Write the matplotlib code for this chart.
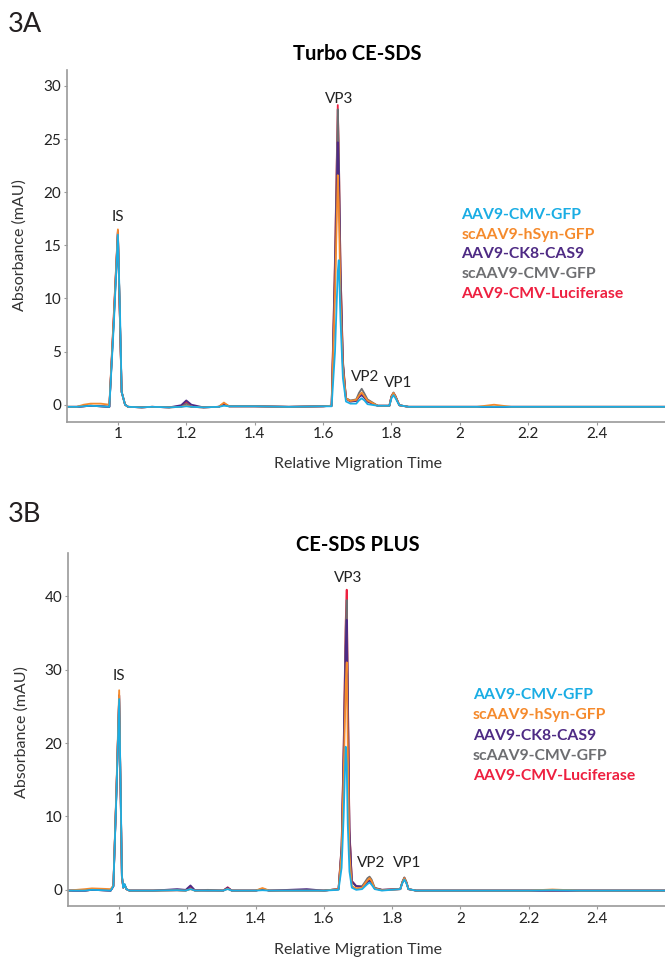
import matplotlib
matplotlib.use('Agg')
import matplotlib.pyplot as plt

plt.rcParams['font.family'] = ['Lato', 'DejaVu Sans']

# colours of the five samples
c_cyan = '#1aade4'
c_orange = '#f58a2c'
c_purple = '#4e2a84'
c_grey = '#6d6e71'
c_red = '#ee2040'

names = ['AAV9-CMV-GFP', 'scAAV9-hSyn-GFP', 'AAV9-CK8-CAS9', 'scAAV9-CMV-GFP', 'AAV9-CMV-Luciferase']

# 3A - Turbo CE-SDS traces
a_x = [0.85, 0.88, 0.90, 0.92, 0.95, 0.975, 0.988, 1.0, 1.006, 1.011,
       1.016, 1.021, 1.03, 1.07, 1.1, 1.15, 1.185, 1.2, 1.215, 1.25,
       1.295, 1.31, 1.325, 1.4, 1.5, 1.6, 1.625, 1.635, 1.643, 1.646,
       1.651, 1.658, 1.667, 1.68, 1.697, 1.705, 1.713, 1.721, 1.73, 1.76,
       1.794, 1.800, 1.806, 1.812, 1.823, 1.85, 2.05, 2.1, 2.15, 2.6]
a_cyan = [-0.2, -0.2, -0.15, -0.1, -0.15, -0.2, 7.5, 16.0, 9.0, 1.2,
          0.6, 0.0, -0.2, -0.25, -0.2, -0.25, -0.2, -0.15, -0.2, -0.25,
          -0.2, -0.1, -0.15, -0.15, -0.2, -0.15, -0.15, 5.0, 12.5, 13.6,
          8.0, 2.5, 0.3, 0.1, 0.1, 0.4, 0.6, 0.4, 0.05, -0.1,
          -0.1, 0.6, 0.9, 0.6, -0.05, -0.2, -0.2, -0.2, -0.2, -0.2]
a_orange = [-0.2, -0.2, 0.0, 0.1, 0.1, 0.0, 8.3, 16.5, 8.0, 1.2,
            0.6, 0.0, -0.2, -0.25, -0.2, -0.25, -0.2, -0.1, -0.2, -0.25,
            -0.2, 0.2, -0.15, -0.15, -0.2, -0.15, -0.1, 10.5, 21.6, 19.0,
            10.0, 3.5, 0.6, 0.35, 0.45, 0.85, 1.15, 0.8, 0.4, -0.1,
            -0.1, 0.75, 1.1, 0.75, -0.05, -0.2, -0.2, 0.0, -0.2, -0.2]
a_purple = [-0.2, -0.2, -0.15, -0.1, -0.15, -0.2, 8.0, 16.2, 8.0, 1.2,
            0.6, 0.0, -0.2, -0.25, -0.2, -0.25, -0.05, 0.4, 0.0, -0.25,
            -0.2, 0.05, -0.15, -0.15, -0.2, -0.15, -0.1, 12.0, 24.7, 22.0,
            12.0, 3.8, 0.6, 0.3, 0.35, 0.7, 0.9, 0.65, 0.3, -0.1,
            -0.1, 0.75, 1.05, 0.75, -0.05, -0.2, -0.2, -0.2, -0.2, -0.2]
a_grey = [-0.2, -0.2, -0.15, -0.1, -0.15, -0.2, 8.0, 16.3, 8.0, 1.2,
          0.6, 0.0, -0.2, -0.25, -0.2, -0.25, -0.2, 0.1, -0.2, -0.25,
          -0.2, 0.1, -0.15, -0.15, -0.2, -0.15, -0.1, 13.5, 27.8, 24.0,
          13.0, 4.2, 0.6, 0.4, 0.5, 1.1, 1.5, 1.05, 0.5, -0.1,
          -0.1, 0.8, 1.15, 0.8, -0.05, -0.2, -0.2, -0.2, -0.2, -0.2]
a_red = [-0.2, -0.2, -0.15, -0.1, -0.15, -0.2, 8.5, 16.4, 8.0, 1.2,
         0.6, 0.0, -0.2, -0.25, -0.2, -0.25, -0.15, 0.25, -0.2, -0.25,
         -0.2, 0.1, -0.15, -0.15, -0.2, -0.15, -0.1, 14.0, 28.2, 24.0,
         13.0, 4.0, 0.6, 0.3, 0.4, 0.75, 1.0, 0.7, 0.3, -0.1,
         -0.1, 0.8, 1.1, 0.8, -0.05, -0.2, -0.2, -0.2, -0.2, -0.2]

# 3B - CE-SDS PLUS traces
b_x = [0.85, 0.9, 0.92, 0.95, 0.975, 0.983, 0.992, 1.0, 1.004, 1.008,
       1.012, 1.016, 1.021, 1.03, 1.1, 1.17, 1.195, 1.209, 1.222, 1.26,
       1.305, 1.318, 1.33, 1.4, 1.42, 1.44, 1.55, 1.6, 1.643, 1.652,
       1.658, 1.664, 1.667, 1.670, 1.675, 1.682, 1.695, 1.712, 1.721, 1.728,
       1.734, 1.74, 1.749, 1.77, 1.824, 1.830, 1.836, 1.842, 1.848, 1.87,
       2.2, 2.27, 2.35, 2.6]
b_cyan = [-0.1, -0.1, 0.0, -0.05, -0.1, 0.5, 13.0, 26.0, 15.0, 2.0,
          0.3, 0.8, 0.1, -0.1, -0.1, -0.05, -0.1, 0.1, -0.1, -0.1,
          -0.1, 0.1, -0.1, -0.1, -0.05, -0.1, -0.1, -0.1, 0.0, 3.0,
          10.0, 19.5, 17.0, 9.0, 2.5, 0.3, 0.0, 0.1, 0.5, 0.8,
          1.0, 0.7, 0.1, -0.1, 0.1, 0.9, 1.4, 0.9, 0.1, -0.1,
          -0.1, -0.05, -0.1, -0.1]
b_orange = [-0.1, 0.1, 0.2, 0.15, 0.1, 0.6, 14.0, 27.2, 14.0, 1.8,
            0.3, 0.7, 0.1, -0.1, -0.1, -0.05, -0.1, 0.1, -0.1, -0.1,
            -0.1, 0.15, -0.1, -0.1, 0.25, -0.1, -0.1, -0.1, 0.1, 5.0,
            15.5, 28.0, 31.0, 20.0, 5.0, 0.5, 0.2, 0.3, 0.9, 1.3,
            1.6, 1.2, 0.2, -0.05, 0.1, 1.0, 1.6, 1.0, 0.1, -0.1,
            -0.1, 0.05, -0.1, -0.1]
b_purple = [-0.1, -0.1, 0.0, -0.05, -0.1, 0.5, 13.5, 26.5, 14.0, 1.8,
            0.3, 0.7, 0.1, -0.1, -0.1, 0.1, 0.0, 0.6, -0.05, -0.1,
            -0.1, 0.3, -0.1, -0.1, 0.1, -0.1, 0.1, -0.1, 0.1, 5.5,
            18.0, 33.0, 36.8, 26.0, 8.0, 1.2, 0.5, 0.4, 0.8, 1.1,
            1.3, 1.0, 0.2, 0.0, 0.1, 1.0, 1.6, 1.0, 0.1, -0.1,
            -0.1, -0.1, -0.1, -0.1]
b_grey = [-0.1, -0.1, 0.0, -0.05, -0.1, 0.5, 13.5, 26.5, 14.0, 1.8,
          0.3, 0.7, 0.1, -0.1, -0.1, -0.05, -0.1, 0.2, -0.1, 0.0,
          -0.1, 0.2, -0.1, -0.1, 0.1, -0.1, -0.1, -0.1, 0.1, 6.0,
          19.0, 35.5, 39.5, 28.0, 8.0, 1.0, 0.5, 0.5, 1.1, 1.6,
          1.8, 1.4, 0.3, 0.0, 0.1, 1.1, 1.7, 1.1, 0.1, -0.1,
          -0.1, -0.1, -0.1, -0.1]
b_red = [-0.1, -0.1, 0.0, -0.05, -0.1, 0.5, 13.5, 26.5, 14.0, 1.8,
         0.3, 0.7, 0.1, -0.1, -0.1, -0.05, -0.1, 0.4, -0.1, -0.1,
         -0.1, 0.35, -0.1, -0.1, 0.1, -0.1, -0.1, -0.1, 0.1, 6.0,
         19.5, 36.5, 40.9, 29.0, 8.5, 1.2, 0.5, 0.4, 0.9, 1.1,
         1.2, 0.9, 0.2, 0.0, 0.1, 1.0, 1.6, 1.0, 0.1, -0.1,
         -0.1, -0.1, -0.1, -0.1]

x_ticks = [1, 1.2, 1.4, 1.6, 1.8, 2, 2.2, 2.4]
x_ticklabels = ['1', '1.2', '1.4', '1.6', '1.8', '2', '2.2', '2.4']
a_yticks = [0, 5, 10, 15, 20, 25, 30]
b_yticks = [0, 10, 20, 30, 40]

# peak labels (x, y in data units)
peak_names = ['IS', 'VP3', 'VP2', 'VP1']
a_peak_x = [1.0, 1.648, 1.723, 1.82]
a_peak_y = [17.7, 28.8, 2.6, 2.05]
b_peak_x = [1.0, 1.671, 1.738, 1.845]
b_peak_y = [29.1, 42.5, 3.6, 3.6]

W, H = 665, 957
fig = plt.figure(figsize=(W / 100, H / 100), dpi=100)


def px(x, y):
    return x / W, 1 - y / H


def setup(ax, yticks, ylim):
    ax.set_xlim(0.85, 2.6)
    ax.set_ylim(*ylim)
    for s in ['top', 'right']:
        ax.spines[s].set_visible(False)
    for s in ['left', 'bottom']:
        ax.spines[s].set_color('#9a9a9a')
        ax.spines[s].set_linewidth(1.2)
    ax.set_xticks(x_ticks)
    ax.set_xticklabels(x_ticklabels)
    ax.set_yticks(yticks)
    ax.tick_params(length=2, width=0.8, color='#9a9a9a', labelsize=11,
                   labelcolor='#222222', pad=2)


def draw_panel(ax, x, series, peak_x, peak_y):
    # drawing order so the cyan trace ends up on top
    for ys, c in zip(series, [c_red, c_grey, c_purple, c_orange, c_cyan]):
        ax.plot(x, ys, color=c, lw=1.3, solid_joinstyle='round')
    for n, xx, yy in zip(peak_names, peak_x, peak_y):
        ax.text(xx, yy, n, ha='center', va='center', fontsize=11, color='#222222')


legend_colors = [c_cyan, c_orange, c_purple, c_grey, c_red]

# ---- 3A ----
l, b = px(66.6, 421.7)
_, t = px(0, 70)
axA = fig.add_axes([l, b, 1 - l, t - b])
setup(axA, a_yticks, (-1.6, 31.5))
draw_panel(axA, a_x, [a_red, a_grey, a_purple, a_orange, a_cyan], a_peak_x, a_peak_y)

fig.text(*px(8, 25), '3A', fontsize=19.5, color='#231f20', ha='left', va='center')
fig.text(*px(357, 54), 'Turbo CE-SDS', fontsize=14.5, fontweight='bold', ha='center', va='center')
fig.text(*px(358, 464), 'Relative Migration Time', fontsize=11.5, color='#333333', ha='center', va='center')
fig.text(*px(20, 245), 'Absorbance (mAU)', fontsize=11.5, color='#333333', rotation=90,
         ha='center', va='center')
for i, (n, c) in enumerate(zip(names, legend_colors)):
    fig.text(*px(461.5, 215 + i * 19.75), n, color=c, fontsize=11.3, fontweight='bold',
             ha='left', va='center')

# ---- 3B ----
l, b = px(68, 906)
_, t = px(0, 553)
axB = fig.add_axes([l, b, 1 - l, t - b])
setup(axB, b_yticks, (-2.2, 45.9))
draw_panel(axB, b_x, [b_red, b_grey, b_purple, b_orange, b_cyan], b_peak_x, b_peak_y)

fig.text(*px(8, 514), '3B', fontsize=19.5, color='#231f20', ha='left', va='center')
fig.text(*px(358, 545), 'CE-SDS PLUS', fontsize=14.5, fontweight='bold', ha='center', va='center')
fig.text(*px(358, 950), 'Relative Migration Time', fontsize=11.5, color='#333333', ha='center', va='center')
fig.text(*px(22, 732), 'Absorbance (mAU)', fontsize=11.5, color='#333333', rotation=90,
         ha='center', va='center')
for i, (n, c) in enumerate(zip(names, legend_colors)):
    fig.text(*px(473, 695 + i * 20.3), n, color=c, fontsize=11.3, fontweight='bold',
             ha='left', va='center')

fig.savefig('out.png', dpi=100)
